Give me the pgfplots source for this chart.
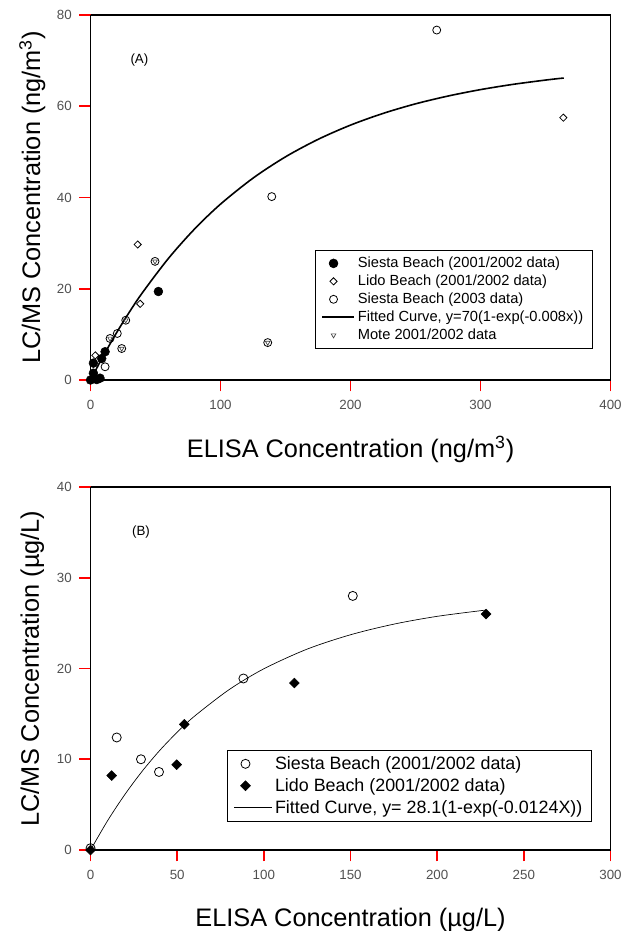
\documentclass[border=0pt]{standalone}
\usepackage{fontspec}
\setmainfont{Liberation Sans}
\usepackage{pgfplots}
\pgfplotsset{compat=1.18}
\definecolor{tickgray}{RGB}{80,80,80}

\pgfplotsset{
  panel/.style={
    scale only axis,
    width=390pt,
    axis x line*=bottom,
    axis y line*=left,
    axis line style={line width=1.1pt, -},
    major tick length=8.5pt,
    every tick/.style={line width=1.4pt, red},
    tick align=outside,
    /pgf/number format/assume math mode=true,
    tick label style={font=\fontsize{10}{11}\selectfont, text=tickgray},
    xticklabel style={yshift=-3pt},
    yticklabel style={xshift=-2pt},
    label style={font=\fontsize{19}{22}\selectfont},
    legend cell align=left,
    clip=false,
  },
  lineA/.style={legend image code/.code={\draw[##1] (0cm,0cm) -- (0.85cm,0cm);}},
  lineB/.style={legend image code/.code={\draw[##1] (0cm,0cm) -- (1cm,0cm);}},
}

\begin{document}
\begin{tikzpicture}
\path[use as bounding box] (0,0) rectangle (467.25pt,-698.25pt);

% ---------- panel A ----------
\begin{axis}[panel,
  at={(67.9pt,-285pt)}, anchor=south west,
  height=273.75pt,
  xmin=0, xmax=400, ymin=0, ymax=80,
  xtick={0,100,200,300,400}, ytick={0,20,40,60,80},
  xlabel={ELISA Concentration (ng/m\textsuperscript{3})},
  ylabel={LC/MS Concentration (ng/m\textsuperscript{3})},
  xlabel style={at={(axis description cs:0.5,-0.19)}, anchor=center},
  ylabel style={at={(axis description cs:-0.112,0.5)}, anchor=center},
  legend style={at={(0.4317,0.356)}, anchor=north west, draw=black, line width=0.5pt,
    font=\fontsize{11}{13.7}\selectfont, inner xsep=4.5pt, inner ysep=3pt,
    row sep=0pt, /tikz/every even column/.append style={column sep=6.5pt}},
]
\draw[line width=1.1pt] (rel axis cs:0,1) -- (rel axis cs:1,1) -- (rel axis cs:1,0);
\addplot[only marks, mark=*, mark size=3.3pt, black] coordinates {
  (0,0) (4.8,0.1) (7.3,0.4) (2.2,1.5) (2.2,3.7) (8.6,4.7) (11.2,6.2) (52.2,19.4)
};
\addlegendentry{Siesta Beach (2001/2002 data)}
\addplot[only marks, mark=square, mark options={rotate=45, fill=white, line width=0.6pt}, mark size=1.9pt, black] coordinates {
  (3.7,5.4) (36.3,29.7) (38.2,16.7) (363.7,57.5)
};
\addlegendentry{Lido Beach (2001/2002 data)}
\addplot[only marks, mark=o, mark size=3pt, mark options={line width=0.6pt}, black] coordinates {
  (139.4,40.2) (266.3,76.7) (20.6,10.2) (11.2,2.9)
  (49.6,26.0) (27.1,13.1) (15,9.1) (24,6.9) (136.3,8.2)
};
\addlegendentry{Siesta Beach (2003 data)}
\addplot[black, line width=1.2pt, smooth, lineA] coordinates {
  (0,0) (10,5.38) (20,10.35) (30,14.94) (40,19.17) (60,26.68) (80,33.09)
  (100,38.55) (125,44.25) (150,48.92) (175,52.74) (200,55.87) (225,58.43)
  (250,60.53) (275,62.24) (300,63.65) (325,64.80) (350,65.74) (364,66.19)
};
\addlegendentry{Fitted Curve, y=70(1-exp(-0.008x))}
\addplot[only marks, mark=triangle, mark size=2pt, mark options={rotate=180, line width=0.5pt}, black!75] coordinates {
  (49.6,26.0) (27.1,13.1) (15,9.1) (24,6.9) (136.3,8.2)
};
\addlegendentry{Mote 2001/2002 data}
\node[font=\fontsize{10}{11}\selectfont] at (rel axis cs:0.094,0.877) {(A)};
\end{axis}

% ---------- panel B ----------
\begin{axis}[panel,
  at={(67.9pt,-637.5pt)}, anchor=south west,
  height=272.25pt,
  xmin=0, xmax=300, ymin=0, ymax=40,
  xtick={0,50,100,150,200,250,300}, ytick={0,10,20,30,40},
  xlabel={ELISA Concentration (µg/L)},
  ylabel={LC/MS Concentration (µg/L)},
  xlabel style={at={(axis description cs:0.5,-0.193)}, anchor=center},
  ylabel style={at={(axis description cs:-0.112,0.5)}, anchor=center},
  legend style={at={(0.262,0.2755)}, anchor=north west, draw=black, line width=0.5pt,
    font=\fontsize{13.4}{15.6}\selectfont, inner xsep=5pt, inner ysep=2.5pt,
    row sep=1.2pt, /tikz/every even column/.append style={column sep=6pt}},
]
\draw[line width=1.1pt] (rel axis cs:0,1) -- (rel axis cs:1,1) -- (rel axis cs:1,0);
\addplot[only marks, mark=o, mark size=3.4pt, mark options={line width=0.6pt}, black] coordinates {
  (0,0.2) (15.1,12.4) (29.1,10.0) (39.5,8.6) (88.2,18.9) (151.3,28.0)
};
\addlegendentry{Siesta Beach (2001/2002 data)}
\addplot[only marks, mark=square*, mark options={rotate=45}, mark size=2.6pt, black] coordinates {
  (0,0) (12.2,8.2) (49.7,9.4) (54.1,13.85) (117.6,18.4) (228.2,26.0)
};
\addlegendentry{Lido Beach (2001/2002 data)}
\addplot[black, line width=0.5pt, smooth, lineB] coordinates {
  (0,0) (10,3.28) (20,6.17) (30,8.73) (40,10.99) (50,12.98) (60,14.75)
  (80,17.68) (100,19.97) (125,22.14) (150,23.72) (175,24.89) (200,25.75) (228,26.44)
};
\addlegendentry{Fitted Curve, y= 28.1(1-exp(-0.0124X))}
\node[font=\fontsize{10}{11}\selectfont] at (rel axis cs:0.097,0.877) {(B)};
\end{axis}
\end{tikzpicture}
\end{document}
